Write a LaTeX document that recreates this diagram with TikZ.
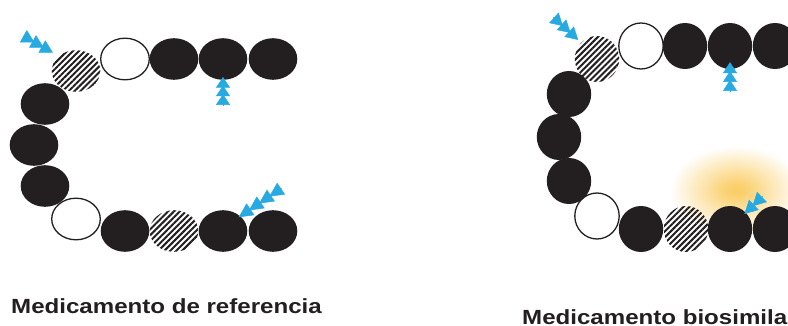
\documentclass[tikz,border=0pt]{standalone}
\usepackage{fontspec}
\newfontfamily\capfont{Liberation Sans}[FakeStretch=1.175]
\usetikzlibrary{arrows.meta}
\usetikzlibrary{shapes.geometric}
\usetikzlibrary{patterns.meta}
\definecolor{ink}{RGB}{35,31,32}
\definecolor{myblue}{RGB}{39,170,225}
\definecolor{myglow}{RGB}{250,205,100}
\pgfdeclareradialshading{haze}{\pgfpointorigin}{color(0bp)=(myglow); color(4bp)=(myglow!90!white); color(25bp)=(white); color(50bp)=(white)}

\begin{document}
\begin{tikzpicture}[x=1pt,y=-1pt,
bead/.style={ellipse,inner sep=0pt},
blackbead/.style={bead,fill=ink},
whitebead/.style={bead,draw=ink,line width=1.3pt,fill=white},
stripebead/.style={bead,pattern={Lines[angle=45,distance=4.2pt,line width=2pt]},pattern color=ink},
wedge/.tip={Triangle[width=14pt,sep=-2pt]},
blue/.style={draw=myblue,line width=0.5pt},
caption/.style={anchor=base west,inner sep=0pt,text=ink,font=\capfont\bfseries\fontsize{20.5}{24}\selectfont}]
\useasboundingbox (0,0) rectangle (788,326);

%glow behind the modified bead
\shade[shading=haze] (736,190) ellipse (66 and 44);

%reference chain
\foreach \n/\x/\y/\s in {r1/76/71/stripebead, r2/125/59/whitebead, r3/174/59/blackbead, r4/223/59/blackbead, r5/273/59/blackbead, r6/45/104/blackbead, r7/34/145/blackbead, r8/45/186/blackbead, r9/76/219/whitebead, r10/125/231/blackbead, r11/174/231/stripebead, r12/223/231/blackbead, r13/273/231/blackbead}
  \node[\s,minimum width=48.6pt,minimum height=41.6pt] (\n) at (\x,\y) {};

%biosimilar chain
\foreach \n/\x/\y/\s in {b1/597/59/stripebead, b2/641/46/whitebead, b3/685/46/blackbead, b4/730/46/blackbead, b5/775/46/blackbead, b6/569/94/blackbead, b7/559/137/blackbead, b8/569/181/blackbead, b9/597/216/whitebead, b10/641/229/blackbead, b11/686/229/stripebead, b12/730/229/blackbead, b13/775/229/blackbead}
  \node[\s,minimum width=44.4pt,minimum height=46pt] (\n) at (\x,\y) {};

%arrows
\coordinate (t1) at (23,36);
\coordinate (t2) at (223,106);
\coordinate (t3) at (282,188);
\coordinate (t4) at (553,17);
\coordinate (t5) at (730,92);
\coordinate (t6) at (763,196);
\draw[blue,-{wedge[length=12.6pt]wedge[length=12.6pt]wedge[length=12.6pt]},shorten >=8pt] (t1) -- (r1.north west);
\draw[blue,-{wedge[length=10.6pt]wedge[length=10.6pt]wedge[length=10.6pt]},shorten >=-1pt] (t2) -- (r4.south);
\draw[blue,-{wedge[length=14.3pt]wedge[length=14.3pt]wedge[length=14.3pt]wedge[length=14.3pt]}] (t3) -- (r12.north east);
\draw[blue,-{wedge[length=12.3pt]wedge[length=12.3pt]wedge[length=12.3pt]},shorten >=6pt] (t4) -- (b1.north west);
\draw[blue,-{wedge[length=10.9pt]wedge[length=10.9pt]wedge[length=10.9pt]},shorten >=-5pt] (t5) -- (b4.south);
\draw[blue,-{wedge[length=13.2pt]wedge[length=13.2pt]}] (t6) -- (b12.north east);

\node[caption] (capR) at (11,313) {Medicamento de referencia};
\node[caption] (capB) at (522,324) {Medicamento biosimilar};
\end{tikzpicture}
\end{document}
